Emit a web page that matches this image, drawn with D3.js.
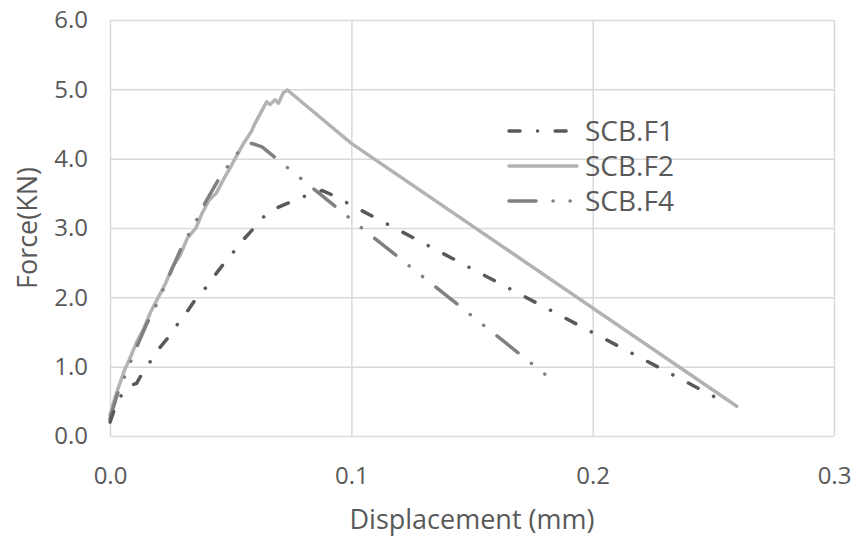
<!DOCTYPE html>
<html>
<head>
<meta charset="utf-8">
<script src="https://cdn.jsdelivr.net/npm/d3@7"></script>
<style>
  html, body { margin: 0; padding: 0; background: #fff; }
  svg { display: block; }
  text { font-family: "Open Sans", "Noto Sans", sans-serif; fill: #595959; }
</style>
</head>
<body>
<svg id="chart" width="856" height="538"></svg>
<script>
// ---- data ----
const seriesNames = ["SCB.F1", "SCB.F2", "SCB.F4"];

const f1Disp = [0, 0.002, 0.004, 0.006, 0.008, 0.011, 0.013, 0.0145, 0.018, 0.021, 0.0256, 0.029, 0.0325, 0.036, 0.040, 0.0435, 0.0477, 0.0518, 0.0552, 0.0597, 0.063, 0.067, 0.0732, 0.0794, 0.0843, 0.088, 0.0912, 0.100, 0.254];
const f1Force = [0.20, 0.40, 0.55, 0.65, 0.72, 0.76, 0.88, 0.95, 1.15, 1.29, 1.48, 1.67, 1.82, 2.00, 2.15, 2.32, 2.51, 2.68, 2.83, 3.00, 3.14, 3.26, 3.35, 3.44, 3.51, 3.54, 3.49, 3.33, 0.50];

const f2Disp = [0, 0.002, 0.004, 0.006, 0.008, 0.011, 0.014, 0.017, 0.020, 0.023, 0.026, 0.029, 0.032, 0.0356, 0.038, 0.041, 0.044, 0.047, 0.050, 0.0518, 0.055, 0.0587, 0.0601, 0.0649, 0.0663, 0.0684, 0.0698, 0.0718, 0.0735, 0.100, 0.2597];
const f2Force = [0.30, 0.55, 0.75, 0.95, 1.10, 1.35, 1.55, 1.80, 2.00, 2.20, 2.45, 2.60, 2.85, 3.00, 3.20, 3.40, 3.50, 3.70, 3.88, 4.00, 4.20, 4.40, 4.51, 4.82, 4.78, 4.85, 4.80, 4.95, 4.99, 4.22, 0.43];

const f4Disp = [0, 0.003, 0.006, 0.010, 0.015, 0.020, 0.025, 0.030, 0.035, 0.040, 0.045, 0.050, 0.054, 0.0587, 0.063, 0.1036, 0.181];
const f4Force = [0.25, 0.60, 0.85, 1.20, 1.60, 1.95, 2.35, 2.75, 3.05, 3.40, 3.70, 3.95, 4.13, 4.22, 4.17, 3.02, 0.87];

const xTicks = [0, 0.1, 0.2, 0.3];
const yTicks = [0, 1, 2, 3, 4, 5, 6];
const xTitle = "Displacement (mm)";
const yTitle = "Force(KN)";

// ---- chart ----
const svg = d3.select("#chart");
const x = d3.scaleLinear().domain([0, 0.3]).range([110, 834]);
const y = d3.scaleLinear().domain([0, 6]).range([436, 20]);

// gridlines + tick labels
const gx = svg.append("g")
  .attr("transform", `translate(0,${y(0)})`)
  .call(d3.axisBottom(x).tickValues(xTicks).tickSize(-(y(0) - y(6))).tickFormat(d3.format(".1f")).tickPadding(31));
const gy = svg.append("g")
  .attr("transform", `translate(${x(0)},0)`)
  .call(d3.axisLeft(y).tickValues(yTicks).tickSize(-(x(0.3) - x(0))).tickFormat(d3.format(".1f")).tickPadding(22));
[gx, gy].forEach(g => {
  g.select(".domain").remove();
  g.selectAll(".tick line").attr("stroke", "#d9d9d9").attr("stroke-width", 1.5);
  g.selectAll(".tick text").style("font-size", "24px").attr("fill", "#595959");
});

const series = [
  { name: seriesNames[0], xs: f1Disp, ys: f1Force, color: "#595959", width: 3.5, dash: "11,17.5,0.1,17.5" },
  { name: seriesNames[1], xs: f2Disp, ys: f2Force, color: "#b3b3b3", width: 3.5, dash: null },
  { name: seriesNames[2], xs: f4Disp, ys: f4Force, color: "#808080", width: 3.5, dash: "27,17,0.1,17,0.1,17" }
];

const line = d3.line().x(d => x(d[0])).y(d => y(d[1]));
[1, 2, 0].forEach(i => {
  const s = series[i];
  svg.append("path")
    .datum(s.xs.map((v, k) => [v, s.ys[k]]))
    .attr("fill", "none")
    .attr("stroke", s.color)
    .attr("stroke-width", s.width)
    .attr("stroke-linecap", "round")
    .attr("stroke-linejoin", "round")
    .attr("stroke-dasharray", s.dash)
    .attr("d", line);
});

// legend
const legend = svg.append("g");
series.forEach((s, i) => {
  const ly = 131 + i * 35;
  legend.append("line")
    .attr("x1", 509).attr("x2", 577).attr("y1", ly).attr("y2", ly)
    .attr("stroke", s.color).attr("stroke-width", s.width)
    .attr("stroke-linecap", "round")
    .attr("stroke-dasharray", s.dash);
  legend.append("text")
    .attr("x", 585).attr("y", ly).attr("dy", "0.35em")
    .style("font-size", "28px")
    .text(s.name);
});

// axis titles
svg.append("text")
  .attr("x", (x(0) + x(0.3)) / 2).attr("y", 520)
  .attr("text-anchor", "middle").attr("dy", "0.35em")
  .style("font-size", "27px")
  .text(xTitle);
svg.append("text")
  .attr("transform", `translate(28,${(y(0) + y(6)) / 2}) rotate(-90)`)
  .attr("text-anchor", "middle").attr("dy", "0.35em")
  .style("font-size", "27px")
  .text(yTitle);
</script>
</body>
</html>
